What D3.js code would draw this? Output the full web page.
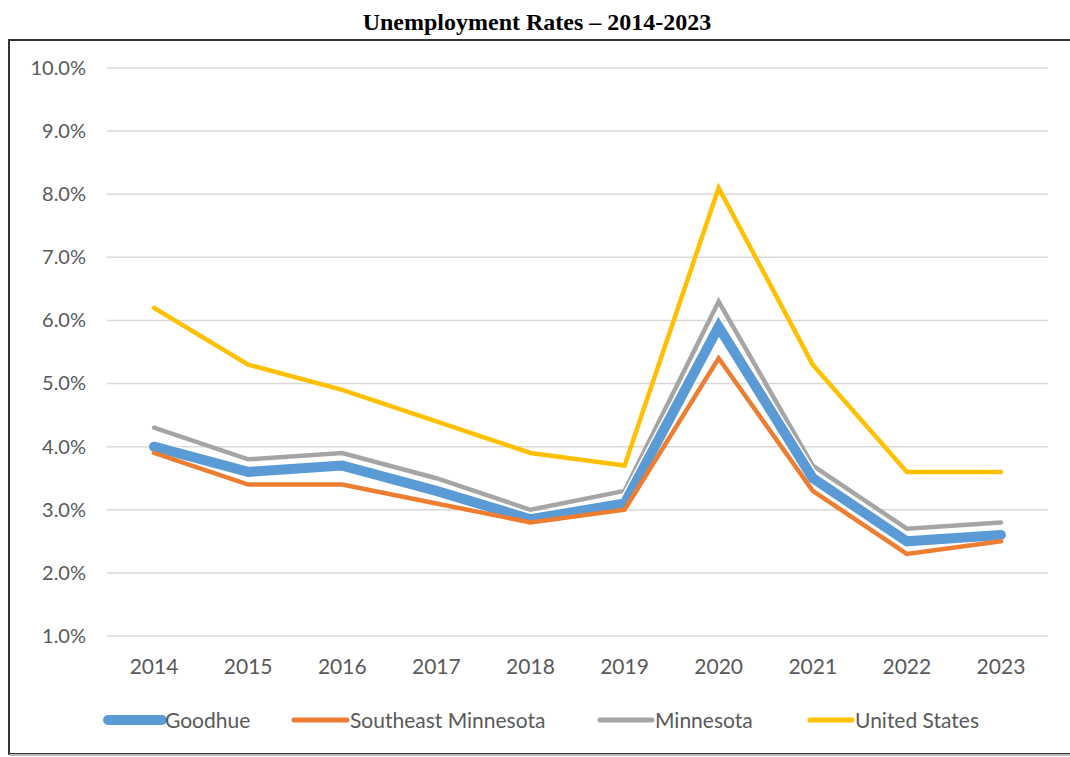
<!DOCTYPE html>
<html>
<head>
<meta charset="utf-8">
<script src="https://cdn.jsdelivr.net/npm/d3@7"></script>
<style>
  body { margin: 0; background: #fff; }
  svg { display: block; }
</style>
</head>
<body>
<div id="chart"></div>
<script>
// data
const years = ['2014', '2015', '2016', '2017', '2018', '2019', '2020', '2021', '2022', '2023'];
const goodhue   = [4.0, 3.6, 3.7, 3.3, 2.85, 3.1, 5.9, 3.5, 2.5, 2.6];
const southeast = [3.9, 3.4, 3.4, 3.1, 2.8, 3.0, 5.4, 3.3, 2.3, 2.5];
const minnesota = [4.3, 3.8, 3.9, 3.5, 3.0, 3.3, 6.3, 3.7, 2.7, 2.8];
const unitedStates = [6.2, 5.3, 4.9, 4.4, 3.9, 3.7, 8.1, 5.3, 3.6, 3.6];
const yTicks = [1, 2, 3, 4, 5, 6, 7, 8, 9, 10];

const series = [
  { name: 'Goodhue', values: goodhue, color: '#5B9BD5', width: 10 },
  { name: 'Southeast Minnesota', values: southeast, color: '#ED7D31', width: 4.5 },
  { name: 'Minnesota', values: minnesota, color: '#A5A5A5', width: 4.5 },
  { name: 'United States', values: unitedStates, color: '#FFC000', width: 4.5 }
];

const W = 1070, H = 757;
const margin = { top: 68, right: 22, bottom: 121, left: 107 };

const svg = d3.select('#chart').append('svg')
  .attr('width', W)
  .attr('height', H);

// title
svg.append('text')
  .attr('x', 537).attr('y', 30)
  .attr('text-anchor', 'middle')
  .attr('font-family', '"Liberation Serif", "Times New Roman", serif')
  .attr('font-weight', 'bold')
  .attr('font-size', 24)
  .text('Unemployment Rates \u2013 2014-2023');

// frame
svg.append('rect')
  .attr('x', 9).attr('y', 40)
  .attr('width', W).attr('height', 714)
  .attr('fill', 'none')
  .attr('stroke', '#333').attr('stroke-width', 2);
svg.append('line')
  .attr('x1', 9).attr('x2', W).attr('y1', 755).attr('y2', 755)
  .attr('stroke', '#bbb').attr('stroke-width', 2);

const xScale = d3.scaleBand().domain(years).range([margin.left, W - margin.right]);
const yScale = d3.scaleLinear().domain([1, 10]).range([H - margin.bottom, margin.top]);

const g = svg.append('g');

// gridlines
g.selectAll('.grid')
  .data(yTicks)
  .enter().append('line')
  .attr('class', 'grid')
  .attr('x1', margin.left).attr('x2', W - margin.right)
  .attr('y1', d => yScale(d)).attr('y2', d => yScale(d))
  .attr('stroke', '#d9d9d9').attr('stroke-width', 1.5);

const labelFont = 'Lato, "Open Sans", sans-serif';

// y axis
const yAxis = d3.axisLeft(yScale).tickValues(yTicks).tickSize(0).tickPadding(0)
  .tickFormat(d => d.toFixed(1) + '%');
g.append('g')
  .attr('transform', 'translate(86,0)')
  .call(yAxis)
  .call(s => s.select('.domain').remove())
  .call(s => s.selectAll('text')
    .attr('fill', '#595959')
    .attr('font-family', labelFont)
    .attr('font-size', 20));

// x axis
const xAxis = d3.axisBottom(xScale).tickSize(0).tickPadding(0);
g.append('g')
  .attr('transform', 'translate(0,' + 659 + ')')
  .call(xAxis)
  .call(s => s.select('.domain').remove())
  .call(s => s.selectAll('text')
    .attr('fill', '#595959')
    .attr('font-family', labelFont)
    .attr('font-size', 21));

const line = d3.line()
  .x((d, i) => xScale(years[i]) + xScale.bandwidth() / 2)
  .y(d => yScale(d));

// draw order: US, Minnesota, Goodhue, Southeast
const order = [3, 2, 0, 1];
order.forEach(i => {
  const s = series[i];
  if (s.name === 'Goodhue') {
    g.append('path')
      .attr('d', line(s.values))
      .attr('fill', 'none')
      .attr('stroke', '#fff')
      .attr('stroke-width', s.width + 3)
      .attr('stroke-linejoin', 'miter');
  }
  g.append('path')
    .attr('d', line(s.values))
    .attr('fill', 'none')
    .attr('stroke', s.color)
    .attr('stroke-width', s.width)
    .attr('stroke-linejoin', 'miter')
    .attr('stroke-linecap', 'round');
});

// legend
const legendPos = [
  { x1: 108, x2: 162, tx: 165 },
  { x1: 294, x2: 347, tx: 350 },
  { x1: 600, x2: 652, tx: 655 },
  { x1: 810, x2: 852, tx: 855 }
];
const legend = svg.append('g');
series.forEach((s, i) => {
  const p = legendPos[i];
  legend.append('line')
    .attr('x1', p.x1).attr('x2', p.x2)
    .attr('y1', 720).attr('y2', 720)
    .attr('stroke', s.color)
    .attr('stroke-width', s.name === 'Goodhue' ? 10 : 5)
    .attr('stroke-linecap', 'round');
  legend.append('text')
    .attr('x', p.tx).attr('y', 728)
    .attr('fill', '#595959')
    .attr('font-family', labelFont)
    .attr('font-size', 21)
    .text(s.name);
});
</script>
</body>
</html>
